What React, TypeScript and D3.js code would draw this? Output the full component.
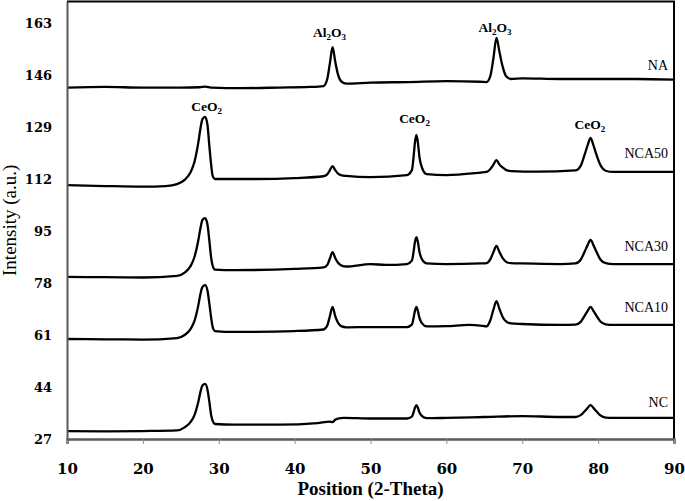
import React, { useEffect, useRef } from 'react';
import * as d3 from 'd3';

type Pt = [number, number];

// axis ticks
const xTicks = [10, 20, 30, 40, 50, 60, 70, 80, 90];
const yTicks = [27, 44, 61, 78, 95, 112, 129, 146, 163];

// XRD patterns: [2-theta, intensity]
const NA: Pt[] = [
  [10, 141.9], [15, 142.1], [20, 141.9], [25, 141.9], [27.5, 142.0], [28.2, 142.2], [29, 141.9], [33, 141.7],
  [38, 141.9], [42, 142.1], [43.8, 142.4], [44.3, 144.7], [44.65, 149.9], [45.0, 155.1], [45.35, 150.4],
  [45.7, 146.3], [46.2, 143.8], [46.8, 143.2], [50, 143.5], [55, 143.7], [60, 144.0], [64.5, 143.8],
  [65.3, 143.7], [65.8, 145.7], [66.2, 151.5], [66.6, 158.1], [67.0, 153.5], [67.4, 148.9], [67.9, 145.5],
  [68.5, 144.7], [70, 144.9], [75, 144.7], [80, 144.7], [85, 144.7], [90, 144.5],
];

const NCA50: Pt[] = [
  [10, 110.0], [15, 109.7], [20, 109.5], [23, 109.7], [24.5, 110.3], [25.5, 111.7], [26.3, 114.3], [26.8, 117.6],
  [27.3, 123.8], [27.6, 128.7], [27.85, 131.6], [28.2, 132.3], [28.5, 130.0], [28.75, 123.1], [29.0, 116.6],
  [29.2, 113.0], [29.5, 112.0], [35, 112.0], [40, 112.3], [43.8, 112.9], [44.3, 113.5], [44.65, 114.9],
  [45.0, 116.2], [45.35, 114.9], [45.7, 113.8], [46.2, 113.2], [46.8, 113.0], [50, 112.6], [54.8, 113.3],
  [55.45, 114.9], [55.7, 119.8], [55.85, 123.8], [56.05, 126.4], [56.25, 123.8], [56.45, 119.2], [56.8, 115.6],
  [57.4, 113.6], [60, 113.3], [64.5, 114.1], [65.3, 114.3], [65.8, 115.3], [66.2, 116.7], [66.6, 118.2],
  [67.0, 116.7], [67.4, 115.8], [67.9, 114.9], [68.5, 114.6], [72, 114.4], [77, 114.8], [77.7, 116.3],
  [78.2, 119.8], [78.6, 122.9], [79.0, 125.4], [79.4, 122.9], [79.8, 119.8], [80.3, 116.6], [81, 114.7],
  [82, 114.3], [90, 114.3],
];

const NCA30: Pt[] = [
  [10, 80.0], [15, 79.9], [20, 79.8], [24.5, 80.3], [25.5, 81.4], [26.3, 83.6], [26.8, 86.5], [27.3, 91.9],
  [27.6, 96.1], [27.85, 98.6], [28.2, 99.2], [28.5, 97.3], [28.75, 92.1], [29.0, 86.2], [29.2, 83.6],
  [29.5, 82.4], [32, 82.2], [40, 82.6], [43.8, 83.1], [44.3, 83.9], [44.65, 86.0], [45.0, 88.1], [45.35, 86.2],
  [45.7, 84.7], [46.2, 83.7], [46.8, 83.4], [50, 84.2], [52, 83.9], [54.8, 84.2], [55.45, 85.3], [55.7, 88.6],
  [55.85, 91.3], [56.05, 93.0], [56.25, 91.3], [56.45, 88.2], [56.8, 85.7], [57.4, 84.4], [60, 84.2],
  [64.5, 84.4], [65.3, 84.5], [65.8, 85.8], [66.2, 88.1], [66.6, 90.1], [67.0, 88.1], [67.4, 86.2],
  [67.9, 84.9], [68.5, 84.5], [70, 84.4], [75, 84.2], [77, 84.4], [77.7, 85.6], [78.2, 88.1], [78.6, 90.3],
  [79.0, 92.1], [79.4, 90.3], [79.8, 88.1], [80.3, 85.7], [81, 84.5], [82, 84.2], [90, 84.2],
];

const NCA10: Pt[] = [
  [10, 59.7], [15, 59.6], [20, 59.5], [24.5, 60.0], [25.5, 61.0], [26.3, 63.0], [26.8, 65.6], [27.3, 70.6],
  [27.6, 74.6], [27.85, 76.7], [28.2, 77.3], [28.5, 75.7], [28.75, 71.5], [29.0, 66.6], [29.2, 63.6],
  [29.5, 62.3], [32, 62.0], [40, 62.3], [43.8, 62.8], [44.3, 64.1], [44.65, 67.2], [45.0, 70.2], [45.35, 67.2],
  [45.7, 65.1], [46.2, 63.8], [46.8, 63.5], [50, 63.6], [54.8, 63.6], [55.45, 64.4], [55.7, 66.9],
  [55.85, 68.8], [56.05, 70.2], [56.25, 68.8], [56.45, 66.6], [56.8, 64.8], [57.4, 63.8], [60, 63.9],
  [63, 64.3], [64.5, 64.1], [65.3, 63.8], [65.8, 65.9], [66.2, 69.3], [66.6, 72.1], [67.0, 69.5], [67.4, 67.0],
  [67.9, 65.4], [68.5, 64.8], [70, 64.6], [75, 64.3], [77, 64.4], [77.7, 65.3], [78.2, 67.2], [78.6, 68.8],
  [79.0, 70.2], [79.4, 68.8], [79.8, 67.2], [80.3, 65.4], [81, 64.5], [82, 64.3], [90, 64.3],
];

const NC: Pt[] = [
  [10, 29.6], [15, 29.5], [20, 29.6], [24.5, 29.8], [25.5, 30.8], [26.3, 32.6], [26.8, 34.8], [27.3, 39.1],
  [27.6, 42.5], [27.85, 44.5], [28.2, 45.0], [28.5, 43.3], [28.75, 39.4], [29.0, 34.8], [29.2, 32.9],
  [29.5, 31.9], [32, 31.7], [38, 31.7], [43, 32.2], [44.6, 32.7], [45.0, 32.5], [45.3, 33.2], [45.7, 33.7],
  [46.5, 33.9], [50, 33.7], [54.8, 33.7], [55.45, 34.3], [55.7, 35.9], [55.85, 37.2], [56.05, 38.1],
  [56.25, 37.2], [56.45, 35.7], [56.8, 34.5], [57.4, 33.8], [60, 33.9], [65, 34.2], [70, 34.5], [75, 34.2],
  [77, 34.2], [77.7, 34.8], [78.2, 36.0], [78.6, 37.1], [79.0, 38.1], [79.4, 37.1], [79.8, 36.0],
  [80.3, 34.7], [81, 34.0], [82, 33.9], [90, 33.9],
];

const seriesNames = ['NA', 'NCA50', 'NCA30', 'NCA10', 'NC'];
const seriesData = [NA, NCA50, NCA30, NCA10, NC];
// where each sample name sits (intensity of the text baseline)
const seriesLabelY = [147.6, 118.9, 88.5, 68.5, 37.5];

// phase labels above the peaks
const phaseBase = ['Al', 'Al', 'CeO', 'CeO', 'CeO'];
const phaseX = [44.6, 66.4, 28.4, 55.8, 78.9];
const phaseY = [158.4, 160.0, 134.2, 130.3, 128.3];

const numFont = '"DejaVu Serif", serif';
const textFont = '"Liberation Serif", serif';

function App() {
  const svgRef = useRef<SVGSVGElement>(null);

  useEffect(() => {
    const svg = d3.select(svgRef.current);
    svg.selectAll('*').remove();

    const x = d3.scaleLinear().domain([10, 90]).range([67, 674]);
    const y = d3.scaleLinear().domain([27, 170]).range([439, 1.6]);

    svg.append('rect').attr('width', 685).attr('height', 501).attr('fill', '#fff');

    // frame: top and right are black, axes grey
    svg.append('line')
      .attr('x1', x(10)).attr('x2', x(90) + 1).attr('y1', y(170)).attr('y2', y(170))
      .attr('stroke', '#000').attr('stroke-width', 2);
    svg.append('line')
      .attr('x1', x(90)).attr('x2', x(90)).attr('y1', y(170)).attr('y2', y(27))
      .attr('stroke', '#000').attr('stroke-width', 2);

    // curves
    const line = d3.line<Pt>()
      .x(d => x(d[0]))
      .y(d => y(d[1]))
      .curve(d3.curveMonotoneX);

    svg.append('g')
      .selectAll('path')
      .data(seriesData)
      .enter()
      .append('path')
      .attr('d', d => line(d))
      .attr('fill', 'none')
      .attr('stroke', '#000')
      .attr('stroke-width', 2.3)
      .attr('stroke-linejoin', 'round');

    // x axis
    const xAxis = svg.append('g')
      .attr('transform', `translate(0, ${y(27)})`)
      .call(d3.axisBottom(x).tickValues(xTicks).tickSize(5).tickPadding(19).tickFormat(d3.format('d')));
    xAxis.select('.domain').attr('stroke', '#595959').attr('stroke-width', 2.5);
    xAxis.selectAll('.tick line').attr('stroke', '#8c8c8c').attr('stroke-width', 1);
    xAxis.selectAll('.tick text')
      .attr('fill', '#000')
      .style('font-family', numFont)
      .style('font-weight', 'bold')
      .style('font-size', '15px');

    // y axis
    const yAxis = svg.append('g')
      .attr('transform', `translate(${x(10)}, 0)`)
      .call(d3.axisLeft(y).tickValues(yTicks).tickSize(0).tickPadding(15).tickFormat(d3.format('d')));
    yAxis.select('.domain').attr('stroke', '#595959').attr('stroke-width', 2);
    yAxis.selectAll('.tick text')
      .attr('fill', '#000')
      .style('font-family', numFont)
      .style('font-weight', 'bold')
      .style('font-size', '13px');

    // axis titles
    svg.append('text')
      .attr('x', (x(10) + x(90)) / 2)
      .attr('y', 495)
      .attr('text-anchor', 'middle')
      .style('font-family', textFont)
      .style('font-weight', 'bold')
      .style('font-size', '19px')
      .text('Position (2-Theta)');

    svg.append('text')
      .attr('transform', `translate(16, ${(y(27) + y(170)) / 2}) rotate(-90)`)
      .attr('text-anchor', 'middle')
      .style('font-family', textFont)
      .style('font-size', '19px')
      .text('Intensity (a.u.)');

    // sample names
    svg.append('g')
      .selectAll('text')
      .data(seriesNames)
      .enter()
      .append('text')
      .attr('x', 668)
      .attr('y', (d, i) => y(seriesLabelY[i]))
      .attr('text-anchor', 'end')
      .style('font-family', textFont)
      .style('font-size', '14px')
      .text(d => d);

    // phase labels
    const phase = svg.append('g')
      .selectAll('text')
      .data(phaseBase)
      .enter()
      .append('text')
      .attr('x', (d, i) => x(phaseX[i]))
      .attr('y', (d, i) => y(phaseY[i]))
      .attr('text-anchor', 'middle')
      .style('font-family', textFont)
      .style('font-weight', 'bold')
      .style('font-size', '13.5px');

    phase.each(function (d) {
      const t = d3.select(this);
      if (d === 'Al') {
        t.append('tspan').text('Al');
        t.append('tspan').attr('dy', 3).style('font-size', '9px').text('2');
        t.append('tspan').attr('dy', -3).text('O');
        t.append('tspan').attr('dy', 3).style('font-size', '9px').text('3');
      } else {
        t.append('tspan').text('CeO');
        t.append('tspan').attr('dy', 3).style('font-size', '9px').text('2');
      }
    });
  }, []);

  return (
    <div style={{ position: 'absolute', left: 0, top: 0, width: 685, height: 501, background: '#fff' }}>
      <svg ref={svgRef} width={685} height={501} style={{ display: 'block' }} />
    </div>
  );
}

export default App;
